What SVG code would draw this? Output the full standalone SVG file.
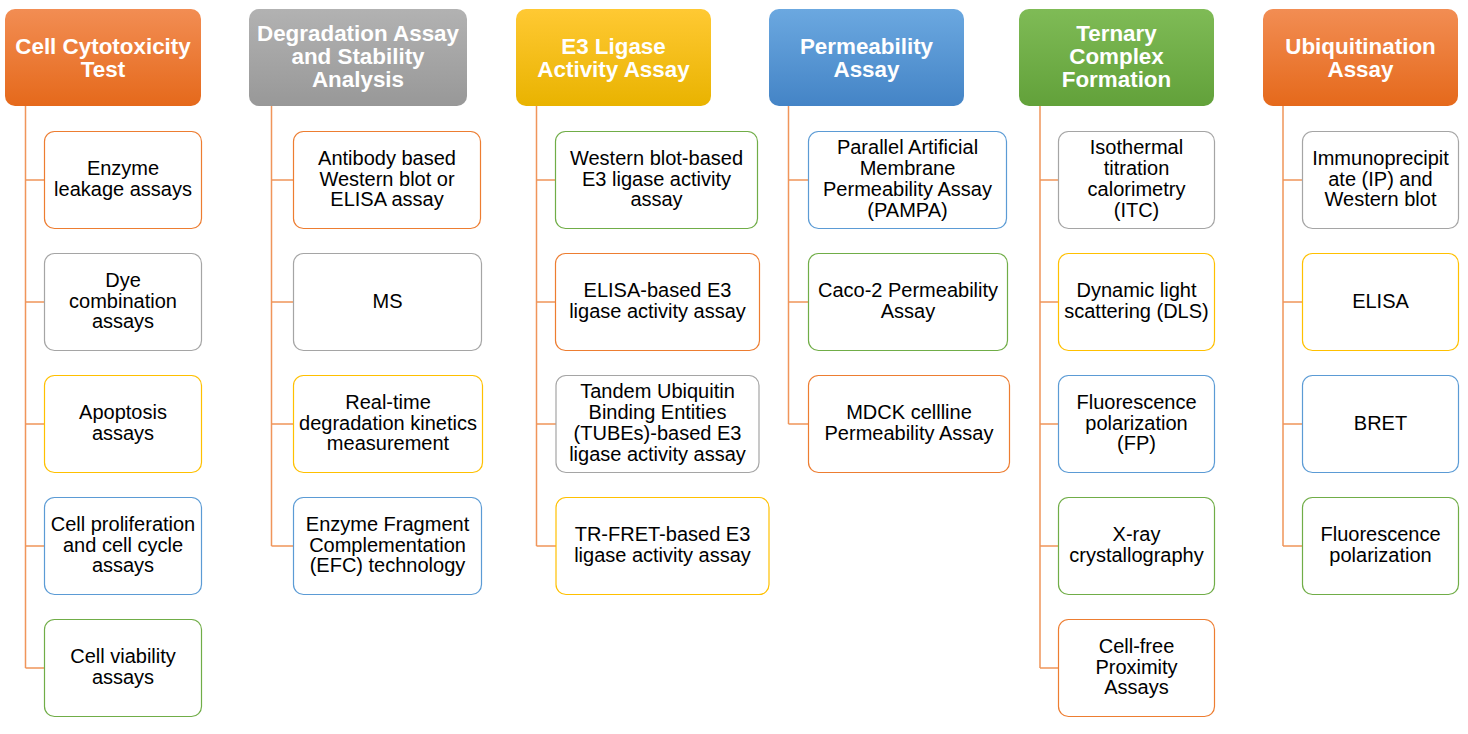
<svg xmlns="http://www.w3.org/2000/svg" width="1468" height="734" viewBox="0 0 1468 734">
<defs>
<linearGradient id="gOrange" x1="0" y1="0" x2="0" y2="1"><stop offset="0" stop-color="#F28D53"/><stop offset="1" stop-color="#E5691B"/></linearGradient>
<linearGradient id="gGray" x1="0" y1="0" x2="0" y2="1"><stop offset="0" stop-color="#B2B2B2"/><stop offset="1" stop-color="#989898"/></linearGradient>
<linearGradient id="gYellow" x1="0" y1="0" x2="0" y2="1"><stop offset="0" stop-color="#FFC933"/><stop offset="1" stop-color="#E9B300"/></linearGradient>
<linearGradient id="gBlue" x1="0" y1="0" x2="0" y2="1"><stop offset="0" stop-color="#6BA8E0"/><stop offset="1" stop-color="#4484C6"/></linearGradient>
<linearGradient id="gGreen" x1="0" y1="0" x2="0" y2="1"><stop offset="0" stop-color="#7FBB56"/><stop offset="1" stop-color="#62A13A"/></linearGradient>
<style>
.hdr{stroke:none}
.box{fill:#FFFFFF;stroke-width:1.2}
.o{stroke:#ED7D31}.g{stroke:#A5A5A5}.y{stroke:#FFC000}.b{stroke:#5B9BD5}.n{stroke:#70AD47}
.ht{font-family:"Liberation Sans",Arial,sans-serif;font-weight:bold;font-size:22.4px;fill:#FFFFFF;text-anchor:middle}
.bt{font-family:"Liberation Sans",Arial,sans-serif;font-size:20px;fill:#000000;text-anchor:middle}
.con{fill:none;stroke:#F0955A;stroke-width:1.5}
</style>
</defs>
<rect width="1468" height="734" fill="#FFFFFF"/>

<g id="connectors" class="con">
<path d="M25.5 106V668M25.5 180H44M25.5 302H44M25.5 424H44M25.5 546H44M25.5 668H44"/>
<path d="M271.5 106V546M271.5 180H293M271.5 302H293M271.5 424H293M271.5 546H293"/>
<path d="M536.5 106V546M536.5 180H555M536.5 302H555M536.5 424H556M536.5 546H556"/>
<path d="M788.5 106V424M788.5 180H808M788.5 302H808M788.5 424H808"/>
<path d="M1040 106V668M1040 180H1058M1040 302H1058M1040 424H1058M1040 546H1058M1040 668H1058"/>
<path d="M1283 106V546M1283 180H1302M1283 302H1302M1283 424H1302M1283 546H1302"/>
</g>

<!-- Column 1 -->
<g id="h1"><rect class="hdr" x="5" y="9" width="196" height="97" rx="10" fill="url(#gOrange)"/>
<text class="ht"><tspan x="103" y="53.5">Cell Cytotoxicity</tspan><tspan x="103" y="76.5">Test</tspan></text></g>
<g id="c1r1"><rect class="box o" x="44.5" y="131.5" width="157" height="97" rx="10"/>
<text class="bt"><tspan x="123" y="175.1">Enzyme</tspan><tspan x="123" y="195.9">leakage assays</tspan></text></g>
<g id="c1r2"><rect class="box g" x="44.5" y="253.5" width="157" height="97" rx="10"/>
<text class="bt"><tspan x="123" y="286.7">Dye</tspan><tspan x="123" y="307.5">combination</tspan><tspan x="123" y="328.3">assays</tspan></text></g>
<g id="c1r3"><rect class="box y" x="44.5" y="375.5" width="157" height="97" rx="10"/>
<text class="bt"><tspan x="123" y="419.1">Apoptosis</tspan><tspan x="123" y="439.9">assays</tspan></text></g>
<g id="c1r4"><rect class="box b" x="44.5" y="497.5" width="157" height="97" rx="10"/>
<text class="bt"><tspan x="123" y="530.7">Cell proliferation</tspan><tspan x="123" y="551.5">and cell cycle</tspan><tspan x="123" y="572.3">assays</tspan></text></g>
<g id="c1r5"><rect class="box n" x="44.5" y="619.5" width="157" height="97" rx="10"/>
<text class="bt"><tspan x="123" y="663.1">Cell viability</tspan><tspan x="123" y="683.9">assays</tspan></text></g>

<!-- Column 2 -->
<g id="h2"><rect class="hdr" x="249" y="9" width="218" height="97" rx="10" fill="url(#gGray)"/>
<text class="ht"><tspan x="358" y="41">Degradation Assay</tspan><tspan x="358" y="64">and Stability</tspan><tspan x="358" y="87">Analysis</tspan></text></g>
<g id="c2r1"><rect class="box o" x="293.5" y="131.5" width="187" height="97" rx="10"/>
<text class="bt"><tspan x="387" y="164.7">Antibody based</tspan><tspan x="387" y="185.5">Western blot or</tspan><tspan x="387" y="206.3">ELISA assay</tspan></text></g>
<g id="c2r2"><rect class="box g" x="293.5" y="253.5" width="188" height="97" rx="10"/>
<text class="bt"><tspan x="387.5" y="307.5">MS</tspan></text></g>
<g id="c2r3"><rect class="box y" x="293.5" y="375.5" width="189" height="97" rx="10"/>
<text class="bt"><tspan x="388" y="408.7">Real-time</tspan><tspan x="388" y="429.5">degradation kinetics</tspan><tspan x="388" y="450.3">measurement</tspan></text></g>
<g id="c2r4"><rect class="box b" x="293.5" y="497.5" width="188" height="97" rx="10"/>
<text class="bt"><tspan x="387.5" y="530.7">Enzyme Fragment</tspan><tspan x="387.5" y="551.5">Complementation</tspan><tspan x="387.5" y="572.3">(EFC) technology</tspan></text></g>

<!-- Column 3 -->
<g id="h3"><rect class="hdr" x="516" y="9" width="195" height="97" rx="10" fill="url(#gYellow)"/>
<text class="ht"><tspan x="613.5" y="53.5">E3 Ligase</tspan><tspan x="613.5" y="76.5">Activity Assay</tspan></text></g>
<g id="c3r1"><rect class="box n" x="555.5" y="131.5" width="202" height="97" rx="10"/>
<text class="bt"><tspan x="656.5" y="164.7">Western blot-based</tspan><tspan x="656.5" y="185.5">E3 ligase activity</tspan><tspan x="656.5" y="206.3">assay</tspan></text></g>
<g id="c3r2"><rect class="box o" x="555.5" y="253.5" width="204" height="97" rx="10"/>
<text class="bt"><tspan x="657.5" y="297.1">ELISA-based E3</tspan><tspan x="657.5" y="317.9">ligase activity assay</tspan></text></g>
<g id="c3r3"><rect class="box g" x="556" y="375.5" width="203" height="97" rx="10"/>
<text class="bt"><tspan x="657.5" y="398.3">Tandem Ubiquitin</tspan><tspan x="657.5" y="419.1">Binding Entities</tspan><tspan x="657.5" y="439.9">(TUBEs)-based E3</tspan><tspan x="657.5" y="460.7">ligase activity assay</tspan></text></g>
<g id="c3r4"><rect class="box y" x="556" y="497.5" width="213" height="97" rx="10"/>
<text class="bt"><tspan x="662.5" y="541.1">TR-FRET-based E3</tspan><tspan x="662.5" y="561.9">ligase activity assay</tspan></text></g>

<!-- Column 4 -->
<g id="h4"><rect class="hdr" x="769" y="9" width="195" height="97" rx="10" fill="url(#gBlue)"/>
<text class="ht"><tspan x="866.5" y="53.5">Permeability</tspan><tspan x="866.5" y="76.5">Assay</tspan></text></g>
<g id="c4r1"><rect class="box b" x="808.5" y="131.5" width="198" height="97" rx="10"/>
<text class="bt"><tspan x="907.5" y="154.3">Parallel Artificial</tspan><tspan x="907.5" y="175.1">Membrane</tspan><tspan x="907.5" y="195.9">Permeability Assay</tspan><tspan x="907.5" y="216.7">(PAMPA)</tspan></text></g>
<g id="c4r2"><rect class="box n" x="808.5" y="253.5" width="199" height="97" rx="10"/>
<text class="bt"><tspan x="908" y="297.1">Caco-2 Permeability</tspan><tspan x="908" y="317.9">Assay</tspan></text></g>
<g id="c4r3"><rect class="box o" x="808.5" y="375.5" width="201" height="97" rx="10"/>
<text class="bt"><tspan x="909" y="419.1">MDCK cellline</tspan><tspan x="909" y="439.9">Permeability Assay</tspan></text></g>

<!-- Column 5 -->
<g id="h5"><rect class="hdr" x="1019" y="9" width="195" height="97" rx="10" fill="url(#gGreen)"/>
<text class="ht"><tspan x="1116.5" y="41">Ternary</tspan><tspan x="1116.5" y="64">Complex</tspan><tspan x="1116.5" y="87">Formation</tspan></text></g>
<g id="c5r1"><rect class="box g" x="1058.5" y="131.5" width="156" height="97" rx="10"/>
<text class="bt"><tspan x="1136.5" y="154.3">Isothermal</tspan><tspan x="1136.5" y="175.1">titration</tspan><tspan x="1136.5" y="195.9">calorimetry</tspan><tspan x="1136.5" y="216.7">(ITC)</tspan></text></g>
<g id="c5r2"><rect class="box y" x="1058.5" y="253.5" width="156" height="97" rx="10"/>
<text class="bt"><tspan x="1136.5" y="297.1">Dynamic light</tspan><tspan x="1136.5" y="317.9">scattering (DLS)</tspan></text></g>
<g id="c5r3"><rect class="box b" x="1058.5" y="375.5" width="156" height="97" rx="10"/>
<text class="bt"><tspan x="1136.5" y="408.7">Fluorescence</tspan><tspan x="1136.5" y="429.5">polarization</tspan><tspan x="1136.5" y="450.3">(FP)</tspan></text></g>
<g id="c5r4"><rect class="box n" x="1058.5" y="497.5" width="156" height="97" rx="10"/>
<text class="bt"><tspan x="1136.5" y="541.1">X-ray</tspan><tspan x="1136.5" y="561.9">crystallography</tspan></text></g>
<g id="c5r5"><rect class="box o" x="1058.5" y="619.5" width="156" height="97" rx="10"/>
<text class="bt"><tspan x="1136.5" y="652.7">Cell-free</tspan><tspan x="1136.5" y="673.5">Proximity</tspan><tspan x="1136.5" y="694.3">Assays</tspan></text></g>

<!-- Column 6 -->
<g id="h6"><rect class="hdr" x="1263" y="9" width="195" height="97" rx="10" fill="url(#gOrange)"/>
<text class="ht"><tspan x="1360.5" y="53.5">Ubiquitination</tspan><tspan x="1360.5" y="76.5">Assay</tspan></text></g>
<g id="c6r1"><rect class="box g" x="1302.5" y="131.5" width="156" height="97" rx="10"/>
<text class="bt"><tspan x="1380.5" y="164.7">Immunoprecipit</tspan><tspan x="1380.5" y="185.5">ate (IP) and</tspan><tspan x="1380.5" y="206.3">Western blot</tspan></text></g>
<g id="c6r2"><rect class="box y" x="1302.5" y="253.5" width="156" height="97" rx="10"/>
<text class="bt"><tspan x="1380.5" y="307.5">ELISA</tspan></text></g>
<g id="c6r3"><rect class="box b" x="1302.5" y="375.5" width="156" height="97" rx="10"/>
<text class="bt"><tspan x="1380.5" y="429.5">BRET</tspan></text></g>
<g id="c6r4"><rect class="box n" x="1302.5" y="497.5" width="156" height="97" rx="10"/>
<text class="bt"><tspan x="1380.5" y="541.1">Fluorescence</tspan><tspan x="1380.5" y="561.9">polarization</tspan></text></g>
</svg>
